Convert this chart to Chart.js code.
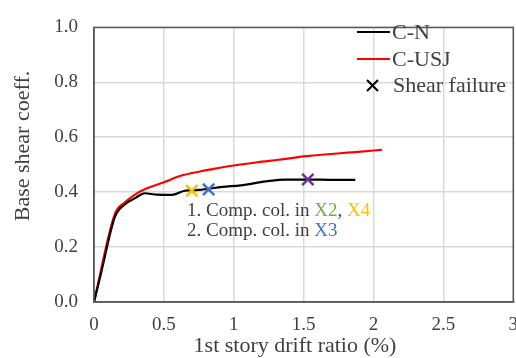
<!DOCTYPE html>
<html><head><meta charset="utf-8">
<script src="https://cdn.jsdelivr.net/npm/chart.js@4"></script>
<style>html,body{margin:0;padding:0;background:#fff;overflow:hidden;width:516px;height:358px}#wrap{width:530px;height:358px}</style>
</head><body><div id="wrap"><canvas id="c" width="530" height="358"></canvas></div>
<script>
// C-N (black) curve
const cnX = [0, 0.05, 0.149, 0.22, 0.30, 0.362, 0.45, 0.556, 0.65, 0.75, 0.92, 1.05, 1.23, 1.37, 1.53, 1.70, 1.87];
const cnY = [0, 0.104, 0.309, 0.355, 0.38, 0.396, 0.391, 0.39, 0.405, 0.408, 0.419, 0.425, 0.439, 0.446, 0.446, 0.445, 0.445];
// C-USJ (red) curve
const usjX = [0, 0.149, 0.22, 0.29, 0.374, 0.505, 0.61, 0.765, 0.85, 1.0, 1.17, 1.32, 1.52, 1.89, 2.06];
const usjY = [0, 0.32, 0.362, 0.39, 0.413, 0.437, 0.458, 0.476, 0.484, 0.497, 0.509, 0.518, 0.531, 0.547, 0.554];
// Shear failure markers
const failX = [0.70, 0.82, 1.53];
const failY = [0.405, 0.41, 0.446];
const failColors = ['#FFC000', '#4472C4', '#7030A0'];
// axes
const xTicks = [0, 0.5, 1, 1.5, 2, 2.5, 3];
const yTicks = [0, 0.2, 0.4, 0.6, 0.8, 1.0];
const seriesNames = ['C-N', 'C-USJ', 'Shear failure'];

const pts = (xs, ys) => xs.map((x, i) => ({x, y: ys[i]}));
const serif = '"Liberation Serif", "Times New Roman", serif';
const txtCol = '#404040';

const overlay = {
  id: 'overlay',
  afterDraw(chart) {
    const ctx = chart.ctx, a = chart.chartArea;
    ctx.save();
    // frame
    ctx.strokeStyle = '#595959'; ctx.lineWidth = 1.5;
    ctx.strokeRect(a.left, a.top, a.right - a.left, a.bottom - a.top);
    // axis titles
    ctx.fillStyle = txtCol; ctx.textAlign = 'center'; ctx.textBaseline = 'middle';
    ctx.font = '22px ' + serif;
    ctx.fillText('1st story drift ratio (%)', 295, 346);
    ctx.save(); ctx.translate(23, 146); ctx.rotate(-Math.PI / 2);
    ctx.fillText('Base shear coeff.', 0, 0); ctx.restore();
    // legend
    ctx.textAlign = 'left';
    ctx.font = '22px ' + serif;
    const lc = ['#000000', '#FF0000'];
    [32, 59].forEach((y, i) => {
      ctx.strokeStyle = lc[i]; ctx.lineWidth = 2;
      ctx.beginPath(); ctx.moveTo(357, y); ctx.lineTo(390, y); ctx.stroke();
      ctx.fillStyle = txtCol; ctx.fillText(seriesNames[i], 392, y + 1);
    });
    ctx.strokeStyle = '#000'; ctx.lineWidth = 2;
    ctx.beginPath(); ctx.moveTo(367, 80); ctx.lineTo(378, 91); ctx.moveTo(378, 80); ctx.lineTo(367, 91); ctx.stroke();
    ctx.fillStyle = txtCol; ctx.fillText(seriesNames[2], 393, 86);
    // annotation
    ctx.font = '19px ' + serif;
    const seg = (parts, x, y) => { parts.forEach(([t, c]) => { ctx.fillStyle = c; ctx.fillText(t, x, y); x += ctx.measureText(t).width; }); };
    seg([['1. Comp. col. in ', txtCol], ['X2', '#70AD47'], [', ', txtCol], ['X4', '#FFC000']], 187, 211);
    seg([['2. Comp. col. in ', txtCol], ['X3', '#4472C4']], 187, 231);
    ctx.restore();
  }
};

new Chart(document.getElementById('c'), {
  type: 'scatter',
  data: {
    datasets: [
      {label: seriesNames[0], data: pts(cnX, cnY), showLine: true, borderColor: '#000', borderWidth: 2.2, pointRadius: 0, cubicInterpolationMode: 'monotone', order: 2},
      {label: seriesNames[1], data: pts(usjX, usjY), showLine: true, borderColor: '#FF0000', borderWidth: 2.2, pointRadius: 0, cubicInterpolationMode: 'monotone', order: 3},
      {label: seriesNames[2], data: pts(failX, failY), showLine: false, pointStyle: 'crossRot', pointRadius: 8,
       pointBorderWidth: 2.5, pointBorderColor: failColors, pointBackgroundColor: failColors, borderColor: failColors, order: 1}
    ]
  },
  options: {
    responsive: false, animation: false,
    layout: {padding: {top: 15, right: 15, left: 0, bottom: 0}},
    plugins: {legend: {display: false}, tooltip: {enabled: false}},
    scales: {
      x: {
        type: 'linear', min: 0, max: 3,
        afterBuildTicks: s => { s.ticks = xTicks.map(v => ({value: v})); },
        afterFit: s => { s.height = 56; },
        grid: {color: '#d9d9d9', lineWidth: 1.5, drawTicks: false},
        border: {color: '#595959', width: 1.5},
        ticks: {padding: 12, color: txtCol, font: {family: serif, size: 19}, maxRotation: 0, callback: v => String(v)}
      },
      y: {
        min: 0, max: 1,
        afterBuildTicks: s => { s.ticks = yTicks.map(v => ({value: v})); },
        afterFit: s => { s.width = 94; },
        grid: {color: '#d9d9d9', lineWidth: 1.5, drawTicks: false},
        border: {color: '#595959', width: 1.5},
        ticks: {padding: 16, color: txtCol, font: {family: serif, size: 19}, callback: v => v.toFixed(1)}
      }
    }
  },
  plugins: [overlay]
});
</script></body></html>
